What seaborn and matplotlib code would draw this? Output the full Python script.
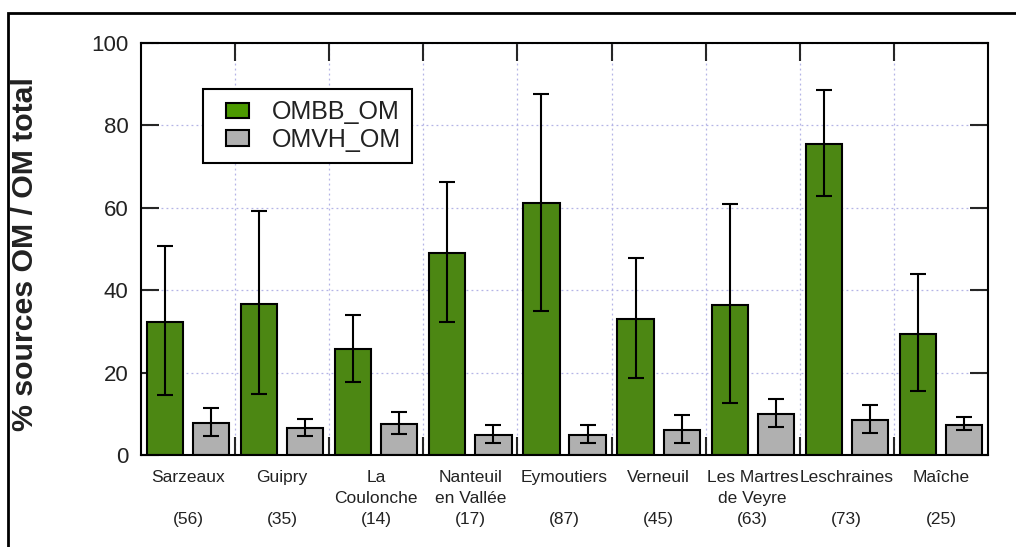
import matplotlib
matplotlib.use("Agg")
import matplotlib.pyplot as plt
import matplotlib.patches as mpatches
from matplotlib.legend_handler import HandlerPatch
import numpy as np
import pandas as pd
import seaborn as sns

# data
sites = ["Sarzeaux", "Guipry", "La\nCoulonche", "Nanteuil\nen Vallée", "Eymoutiers",
         "Verneuil", "Les Martres\nde Veyre", "Leschraines", "Maîche"]
n_samples = [56, 35, 14, 17, 87, 45, 63, 73, 25]

ombb = [32.2, 36.7, 25.7, 49.1, 61.1, 32.9, 36.3, 75.4, 29.3]
ombb_low = [14.6, 14.9, 17.6, 32.4, 35.0, 18.6, 12.5, 62.9, 15.5]
ombb_high = [50.7, 59.3, 34.1, 66.2, 87.6, 47.7, 60.8, 88.5, 43.9]

omvh = [7.7, 6.5, 7.5, 4.9, 4.9, 6.1, 9.9, 8.5, 7.4]
omvh_low = [4.7, 4.7, 5.2, 3.0, 2.8, 3.0, 6.9, 5.4, 6.1]
omvh_high = [11.3, 8.7, 10.4, 7.2, 7.3, 9.7, 13.5, 12.1, 9.3]

series = ["OMBB_OM", "OMVH_OM"]
colors = ["#4c9a00", "#b0b0b0"]
text_color = "#222222"

df = pd.DataFrame({
    "site": sites * 2,
    "source": [series[0]] * len(sites) + [series[1]] * len(sites),
    "value": ombb + omvh,
})

sns.set_style("ticks")
plt.rcParams["font.family"] = ["Liberation Sans", "DejaVu Sans"]

fig = plt.figure(figsize=(10.16, 5.47), dpi=100)
ax = fig.add_axes([0.1388, 0.1682, 0.8336, 0.7532])

sns.barplot(data=df, x="site", y="value", hue="source", palette=colors,
            width=0.98, gap=0.215, edgecolor="black", linewidth=1.5,
            errorbar=None, ax=ax, zorder=2)

# error bars centred on the drawn bars
for cont, vals, lo, hi in zip(ax.containers, [ombb, omvh], [ombb_low, omvh_low],
                              [ombb_high, omvh_high]):
    xs = [p.get_x() + p.get_width() / 2 for p in cont.patches]
    v = np.array(vals)
    yerr = [v - np.array(lo), np.array(hi) - v]
    ax.errorbar(xs, v, yerr=yerr, fmt="none", ecolor="black", elinewidth=1.5,
                capsize=6, capthick=1.5, zorder=3)

ax.set_xlim(-0.5, len(sites) - 0.5)
ax.set_ylim(0, 100)

# category boundaries as major ticks, labels on minor ticks
ax.set_xticks(np.arange(0.5, len(sites) - 0.5, 1.0))
ax.set_xticklabels([])
ax.set_xticks(np.arange(len(sites)), minor=True)
ax.set_xticklabels([f"{s}\n({n})" if "\n" in s else f"{s}\n\n({n})"
                    for s, n in zip(sites, n_samples)], minor=True,
                   fontsize=12.5, color=text_color, linespacing=1.5)
ax.tick_params(axis="x", which="major", direction="in", length=13, width=1.5,
               top=True, bottom=True)
ax.tick_params(axis="x", which="minor", length=0, pad=11)

ax.set_yticks(np.arange(0, 101, 20))
ax.tick_params(axis="y", direction="in", length=13, width=1.5, left=True, right=True,
               labelsize=16, labelcolor=text_color, pad=9)

ax.set_xlabel("")
ax.set_ylabel("% sources OM / OM total", fontsize=21.8, fontweight="bold",
              color=text_color)
ax.yaxis.set_label_coords(-0.120, 0.488)

ax.grid(True, which="major", color="#b4b4e6", linestyle=(0, (1.5, 2.5)), linewidth=0.9)
ax.set_axisbelow(True)
for sp in ax.spines.values():
    sp.set_visible(True)
    sp.set_linewidth(1.5)
    sp.set_color("black")
    sp.set_zorder(5)


def right_patch(legend, orig_handle, xdescent, ydescent, width, height, fontsize):
    # small swatch pushed to the right end of the handle box
    w = 0.95 * fontsize
    return mpatches.Rectangle((-xdescent + width - w, -ydescent), w, height)


handles = [mpatches.Patch(facecolor=c, edgecolor="black", linewidth=1.5) for c in colors]
leg = ax.legend(handles, series, loc="upper left",
                bbox_to_anchor=(203 / 1016, 1 - 89 / 547), bbox_transform=fig.transFigure,
                fontsize=18, frameon=True, fancybox=False, shadow=False,
                handlelength=1.4, handleheight=0.6, handletextpad=0.9,
                labelspacing=0.15, borderpad=0.45, borderaxespad=0,
                handler_map={mpatches.Patch: HandlerPatch(patch_func=right_patch)})
leg.get_frame().set_edgecolor("black")
leg.get_frame().set_linewidth(1.5)
leg.get_frame().set_alpha(1)
for t in leg.get_texts():
    t.set_color(text_color)

# outer frame of the original figure
fig.patches.append(mpatches.Rectangle((8 / 1016, -0.1), 1.2, 1 - 13 / 547 + 0.1,
                                      transform=fig.transFigure, fill=False,
                                      edgecolor="black", linewidth=2, zorder=10))

fig.savefig("out.png", dpi=100)
